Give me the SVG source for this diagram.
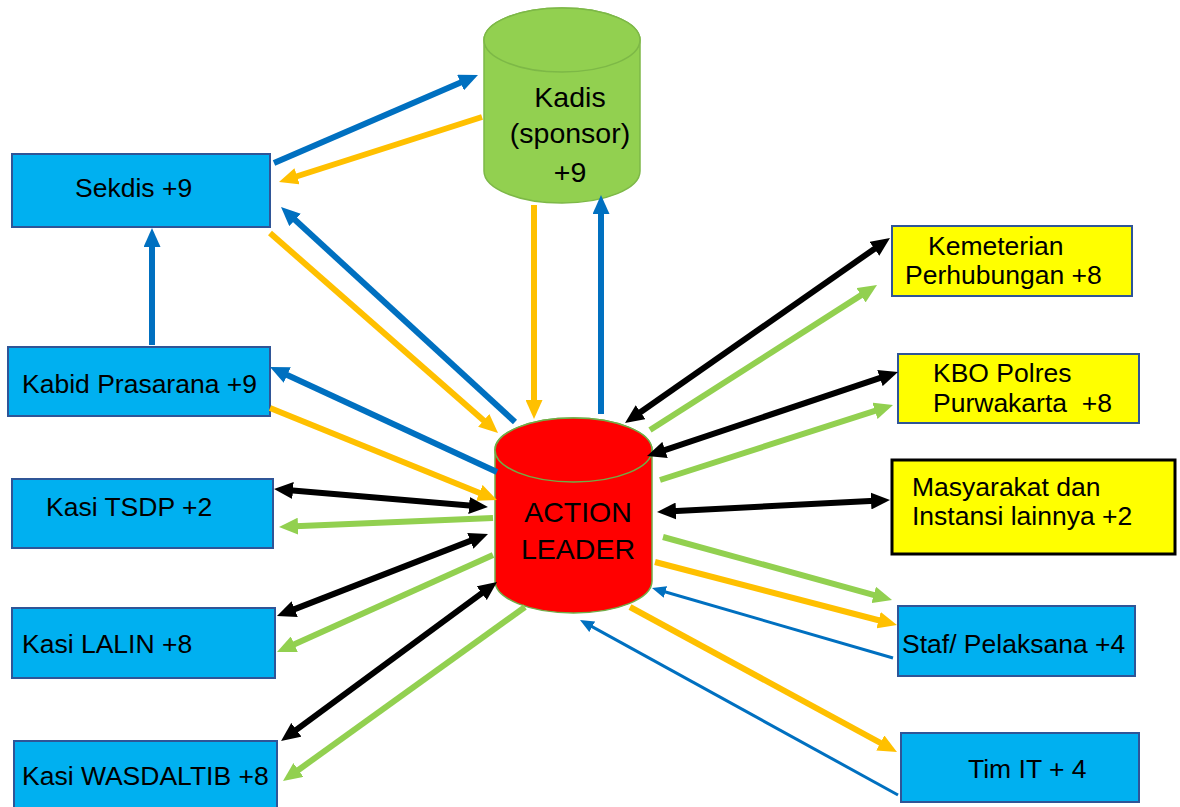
<svg xmlns="http://www.w3.org/2000/svg" width="1180" height="807" viewBox="0 0 1180 807">
<style>
text{font-family:"Liberation Sans",Arial,sans-serif;fill:#000}
.t{font-size:26.5px}
.c{font-size:28.5px;text-anchor:middle}
.bb{fill:#00B0F0;stroke:#2F5597;stroke-width:2}
.yb{fill:#FFFF00;stroke:#2F5597;stroke-width:2}
.ln{fill:none;stroke-width:6}
.thin{fill:none;stroke-width:3}
.blue{stroke:#0070C0}
.yel{stroke:#FFC000}
.grn{stroke:#92D050}
.blk{stroke:#000}
</style>
<defs>
<marker id="aB" markerUnits="userSpaceOnUse" markerWidth="19" markerHeight="17" refX="9" refY="8.5" orient="auto-start-reverse"><path d="M0,0 L19,8.5 L0,17 z" fill="#0070C0"/></marker>
<marker id="aY" markerUnits="userSpaceOnUse" markerWidth="19" markerHeight="17" refX="9" refY="8.5" orient="auto-start-reverse"><path d="M0,0 L19,8.5 L0,17 z" fill="#FFC000"/></marker>
<marker id="aG" markerUnits="userSpaceOnUse" markerWidth="19" markerHeight="17" refX="9" refY="8.5" orient="auto-start-reverse"><path d="M0,0 L19,8.5 L0,17 z" fill="#92D050"/></marker>
<marker id="aK" markerUnits="userSpaceOnUse" markerWidth="19" markerHeight="17" refX="9" refY="8.5" orient="auto-start-reverse"><path d="M0,0 L19,8.5 L0,17 z" fill="#000"/></marker>
<marker id="aBt" markerUnits="userSpaceOnUse" markerWidth="14" markerHeight="12" refX="7" refY="6" orient="auto"><path d="M0,0 L14,6 L0,12 z" fill="#0070C0"/></marker>
</defs>

<g id="kadis">
<path d="M484,40 A78,32 0 0,1 640,40 L640,171 A78,32 0 0,1 484,171 Z" fill="#92D050" stroke="#7DB847" stroke-width="1.5"/>
<ellipse cx="562" cy="40" rx="78" ry="32" fill="#92D050" stroke="#7DB847" stroke-width="1.5"/>
<text class="c" x="570" y="107">Kadis</text>
<text class="c" x="570" y="143">(sponsor)</text>
<text class="c" x="570" y="182">+9</text>
</g>

<g id="action-leader">
<path d="M495,450 A78.5,32 0 0,1 652,450 L652,581 A78.5,32 0 0,1 495,581 Z" fill="#FF0000" stroke="#70AD47" stroke-width="1.5"/>
<ellipse cx="573.5" cy="450" rx="78.5" ry="32" fill="#FF0000" stroke="#70AD47" stroke-width="1.5"/>
<text class="c" x="578" y="522">ACTION</text>
<text class="c" x="578" y="559">LEADER</text>
</g>

<g id="sekdis"><rect class="bb" x="12" y="154" width="258" height="73"/><text class="t" x="75" y="197">Sekdis +9</text></g>
<g id="kabid"><rect class="bb" x="8" y="347" width="262" height="69"/><text class="t" x="22" y="393">Kabid Prasarana +9</text></g>
<g id="kasi-tsdp"><rect class="bb" x="12" y="479" width="261" height="69"/><text class="t" x="46" y="516">Kasi TSDP +2</text></g>
<g id="kasi-lalin"><rect class="bb" x="12" y="608" width="263" height="70"/><text class="t" x="22" y="653">Kasi LALIN +8</text></g>
<g id="kasi-wasdaltib"><rect class="bb" x="14" y="741" width="263" height="75"/><text class="t" x="22" y="785">Kasi WASDALTIB +8</text></g>

<g id="kemeterian"><rect class="yb" x="892" y="226" width="240" height="70"/><text class="t" x="928" y="255">Kemeterian</text><text class="t" x="905" y="284">Perhubungan +8</text></g>
<g id="kbo"><rect class="yb" x="898" y="354" width="241" height="69"/><text class="t" x="933" y="382">KBO Polres</text><text class="t" x="933" y="412" xml:space="preserve">Purwakarta  +8</text></g>
<g id="masyarakat"><rect x="892" y="460" width="283" height="94" fill="#FFFF00" stroke="#000" stroke-width="3"/><text class="t" x="912" y="496">Masyarakat dan</text><text class="t" x="912" y="525">Instansi lainnya +2</text></g>
<g id="staf"><rect class="bb" x="898" y="606" width="237" height="70"/><text class="t" x="902" y="653">Staf/ Pelaksana +4</text></g>
<g id="tim-it"><rect class="bb" x="901" y="733" width="238" height="69"/><text class="t" x="968" y="778">Tim IT + 4</text></g>

<g id="connectors">
<path class="ln blue" d="M274,163 L468.8,79" marker-end="url(#aB)"/>
<path class="ln yel" d="M482,117 L288.5,179" marker-end="url(#aY)"/>
<path class="ln blue" d="M515,422 L288.4,213.8" marker-end="url(#aB)"/>
<path class="ln yel" d="M270,233 L490.5,426.4" marker-end="url(#aY)"/>
<path class="ln yel" d="M534,205 L534,409" marker-end="url(#aY)"/>
<path class="ln blue" d="M601,414 L601,205" marker-end="url(#aB)"/>
<path class="ln blue" d="M152,345 L152,238" marker-end="url(#aB)"/>
<path class="ln blue" d="M497,472 L279.1,371.2" marker-end="url(#aB)"/>
<path class="ln yel" d="M270,408 L487.7,496.2" marker-end="url(#aY)"/>
<path class="ln blk" d="M284,489.8 L478,506.2" marker-start="url(#aK)" marker-end="url(#aK)"/>
<path class="ln grn" d="M493,518 L289,526.6" marker-end="url(#aG)"/>
<path class="ln blk" d="M286.3,612.4 L478.7,537.6" marker-start="url(#aK)" marker-end="url(#aK)"/>
<path class="ln grn" d="M493,555 L286.1,647.9" marker-end="url(#aG)"/>
<path class="ln blk" d="M289.1,735.1 L489,587.9" marker-start="url(#aK)" marker-end="url(#aK)"/>
<path class="ln grn" d="M525,607 L291.1,775.2" marker-end="url(#aG)"/>
<path class="ln blk" d="M633.2,417.3 L881.8,243.7" marker-start="url(#aK)" marker-end="url(#aK)"/>
<path class="ln grn" d="M650,430 L868.6,290.4" marker-end="url(#aG)"/>
<path class="ln blk" d="M656.5,452.8 L888.5,375.2" marker-start="url(#aK)" marker-end="url(#aK)"/>
<path class="ln grn" d="M660,480 L883.5,408.1" marker-end="url(#aG)"/>
<path class="ln blk" d="M667,511.5 L880,500.5" marker-start="url(#aK)" marker-end="url(#aK)"/>
<path class="ln grn" d="M663,537 L882.4,597.3" marker-end="url(#aG)"/>
<path class="ln yel" d="M655,562 L887.3,622.5" marker-end="url(#aY)"/>
<path class="thin blue" d="M893,658 L658.7,590" marker-end="url(#aBt)"/>
<path class="ln yel" d="M630,607 L888.2,747.2" marker-end="url(#aY)"/>
<path class="thin blue" d="M898,795 L586.1,623.4" marker-end="url(#aBt)"/>
</g>
</svg>
